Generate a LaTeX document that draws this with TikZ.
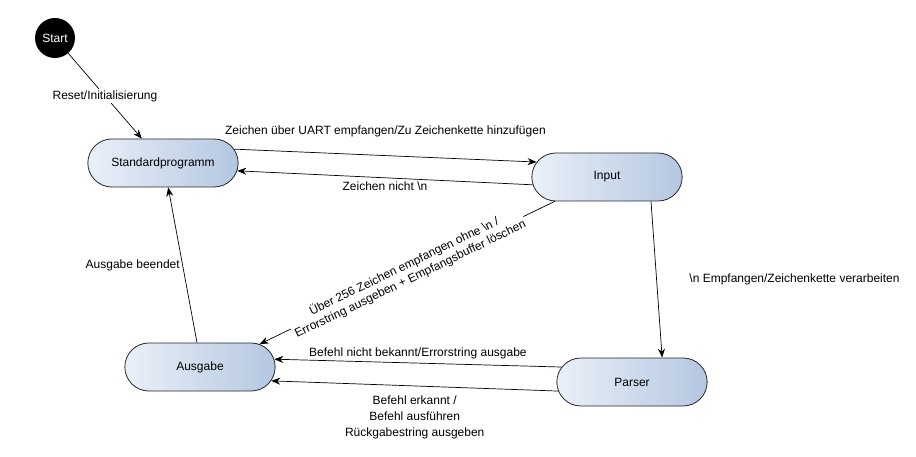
\documentclass[tikz,border=0pt]{standalone}
\usepackage{fontspec}
\setmainfont{Liberation Sans}
\usetikzlibrary{arrows.meta,shapes.misc}
\definecolor{stateleft}{HTML}{EAF0F8}
\definecolor{stateright}{HTML}{B4C7E1}

\begin{document}
\begin{tikzpicture}[x=1pt,y=-1pt,font=\fontsize{12}{16}\selectfont,
  state/.style={rounded rectangle,draw=black!85,line width=0.8pt,
    minimum width=157pt,minimum height=48pt,
    left color=stateleft,right color=stateright},
  trans/.style={-{Stealth[length=9pt,width=7pt]},line width=0.7pt},
  lbl/.style={inner sep=1.5pt,align=center}]
  \useasboundingbox (0,0) rectangle (916,457);
  % states
  \node[circle,fill=black,minimum size=40pt,inner sep=0pt,text=white] (start) at (55,38) {Start};
  \node[state] (std) at (163,163) {Standardprogramm};
  \node[state] (input) at (607,177) {Input};
  \node[state] (ausgabe) at (200,367) {Ausgabe};
  \node[state] (parser) at (632,382) {Parser};
  % transitions
  \draw[trans] (start) -- (std.131) node[lbl,fill=white,midway] {Reset/Initialisierung};
  \draw[trans] (std.11) -- (input.168) node[lbl,midway,above=17pt] {Zeichen über UART empfangen/Zu Zeichenkette hinzufügen};
  \draw[trans] (input.186) -- (std.354) node[lbl,midway,below=2pt] {Zeichen nicht \textbackslash n};
  \draw[trans] (input.205.6) -- (ausgabe.21.8) node[lbl,fill=white,midway,sloped,font=\fontsize{12}{14}\selectfont]
    {Über 256 Zeichen empfangen ohne \textbackslash n /\\Errorstring ausgeben + Empfangsbuffer löschen};
  \draw[trans] (input.331.4) -- (parser.39.6) node[lbl,midway,right=31pt] {\textbackslash n Empfangen/Zeichenkette verarbeiten};
  \draw[trans] (parser.168) -- (ausgabe.6.8) node[lbl,midway,above=2pt] {Befehl nicht bekannt/Errorstring ausgabe};
  \draw[trans] (parser.187.6) -- (ausgabe.349) node[lbl,midway,below=8pt]
    {Befehl erkannt /\\Befehl ausführen\\Rückgabestring ausgeben};
  \draw[trans] (ausgabe.97) -- (std.282) node[lbl,midway,left=1pt] {Ausgabe beendet};
\end{tikzpicture}
\end{document}
